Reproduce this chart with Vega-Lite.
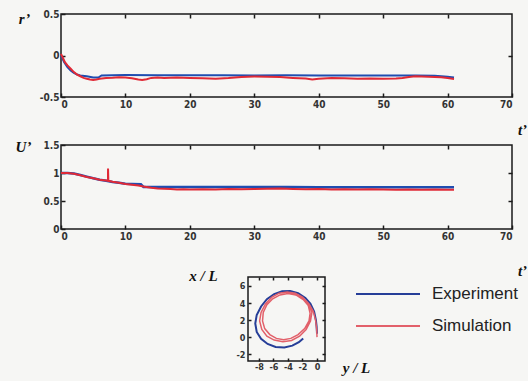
{
  "$schema": "https://vega.github.io/schema/vega-lite/v6.json",
  "autosize": {"type": "none"},
  "padding": {"left": 61, "top": 14, "right": 467, "bottom": 367},
  "background": "#f6f6f4",
  "bounds": "flush",
  "spacing": 48,
  "center": true,
  "config": {
    "view": {"stroke": "#1a1a1a", "strokeWidth": 1.5},
    "axis": {
      "grid": false,
      "domain": false,
      "tickColor": "#1a1a1a",
      "tickWidth": 1.5,
      "tickSize": -4,
      "labelPadding": 6,
      "labelFont": "Liberation Sans Narrow, DejaVu Sans Condensed, Liberation Sans, sans-serif",
      "labelFontSize": 10,
      "labelFontWeight": "bold",
      "labelColor": "#333333",
      "titleFont": "Liberation Serif, DejaVu Serif, serif",
      "titleFontStyle": "italic",
      "titleFontWeight": "bold",
      "titleFontSize": 15,
      "titleColor": "#111111"
    }
  },
  "datasets": {
    "rExp": [
      {"t": 0, "v": 0.0}, {"t": 0.5, "v": -0.08}, {"t": 1, "v": -0.14}, {"t": 1.5, "v": -0.18},
      {"t": 2, "v": -0.21}, {"t": 2.5, "v": -0.23}, {"t": 3, "v": -0.24}, {"t": 4, "v": -0.25},
      {"t": 5, "v": -0.265}, {"t": 5.8, "v": -0.265}, {"t": 6.3, "v": -0.24}, {"t": 8, "v": -0.238},
      {"t": 10, "v": -0.236}, {"t": 15, "v": -0.238}, {"t": 20, "v": -0.237}, {"t": 25, "v": -0.238},
      {"t": 30, "v": -0.24}, {"t": 35, "v": -0.238}, {"t": 40, "v": -0.24}, {"t": 45, "v": -0.24},
      {"t": 50, "v": -0.24}, {"t": 55, "v": -0.24}, {"t": 58, "v": -0.245}, {"t": 60, "v": -0.255},
      {"t": 61, "v": -0.265}
    ],
    "rSim": [
      {"t": 0, "v": 0.02}, {"t": 0.3, "v": -0.03}, {"t": 0.6, "v": -0.08}, {"t": 1, "v": -0.12},
      {"t": 1.5, "v": -0.16}, {"t": 2, "v": -0.2}, {"t": 2.5, "v": -0.23}, {"t": 3, "v": -0.25},
      {"t": 3.5, "v": -0.27}, {"t": 4, "v": -0.28}, {"t": 4.5, "v": -0.29}, {"t": 5, "v": -0.295},
      {"t": 5.5, "v": -0.29}, {"t": 6, "v": -0.28}, {"t": 7, "v": -0.27}, {"t": 8, "v": -0.268},
      {"t": 9, "v": -0.262}, {"t": 10, "v": -0.265}, {"t": 11, "v": -0.275}, {"t": 12, "v": -0.29},
      {"t": 12.6, "v": -0.295}, {"t": 13.3, "v": -0.285}, {"t": 14, "v": -0.27}, {"t": 15, "v": -0.265},
      {"t": 16, "v": -0.27}, {"t": 18, "v": -0.265}, {"t": 20, "v": -0.27}, {"t": 22, "v": -0.275},
      {"t": 24, "v": -0.28}, {"t": 26, "v": -0.272}, {"t": 28, "v": -0.258}, {"t": 30, "v": -0.252},
      {"t": 32, "v": -0.255}, {"t": 34, "v": -0.26}, {"t": 36, "v": -0.27}, {"t": 38, "v": -0.278},
      {"t": 39, "v": -0.288}, {"t": 40, "v": -0.28}, {"t": 42, "v": -0.27}, {"t": 44, "v": -0.275},
      {"t": 46, "v": -0.28}, {"t": 48, "v": -0.278}, {"t": 50, "v": -0.28}, {"t": 52, "v": -0.278},
      {"t": 53, "v": -0.272}, {"t": 54, "v": -0.258}, {"t": 55, "v": -0.25}, {"t": 57, "v": -0.255},
      {"t": 59, "v": -0.262}, {"t": 60, "v": -0.272}, {"t": 61, "v": -0.282}
    ],
    "uExp": [
      {"t": 0, "v": 1.0}, {"t": 1, "v": 1.0}, {"t": 2, "v": 0.99}, {"t": 3, "v": 0.965},
      {"t": 4, "v": 0.935}, {"t": 5, "v": 0.905}, {"t": 6, "v": 0.88}, {"t": 7, "v": 0.86},
      {"t": 8, "v": 0.84}, {"t": 9, "v": 0.825}, {"t": 10, "v": 0.81}, {"t": 11, "v": 0.805},
      {"t": 12.4, "v": 0.8}, {"t": 12.8, "v": 0.752}, {"t": 14, "v": 0.75}, {"t": 16, "v": 0.75},
      {"t": 20, "v": 0.75}, {"t": 25, "v": 0.75}, {"t": 30, "v": 0.75}, {"t": 35, "v": 0.748},
      {"t": 40, "v": 0.746}, {"t": 45, "v": 0.746}, {"t": 50, "v": 0.745}, {"t": 55, "v": 0.745},
      {"t": 61, "v": 0.745}
    ],
    "uSim": [
      {"i": 0, "t": 0, "v": 1.0}, {"i": 1, "t": 1, "v": 1.0}, {"i": 2, "t": 2, "v": 0.985},
      {"i": 3, "t": 3, "v": 0.96}, {"i": 4, "t": 4, "v": 0.93}, {"i": 5, "t": 5, "v": 0.905},
      {"i": 6, "t": 6, "v": 0.88}, {"i": 7, "t": 7, "v": 0.865}, {"i": 8, "t": 7.3, "v": 0.86},
      {"i": 9, "t": 7.3, "v": 1.08}, {"i": 10, "t": 7.35, "v": 0.86}, {"i": 11, "t": 8, "v": 0.845},
      {"i": 12, "t": 9, "v": 0.825}, {"i": 13, "t": 10, "v": 0.805}, {"i": 14, "t": 11, "v": 0.79},
      {"i": 15, "t": 12, "v": 0.775}, {"i": 16, "t": 13, "v": 0.755}, {"i": 17, "t": 14, "v": 0.735},
      {"i": 18, "t": 15, "v": 0.725}, {"i": 19, "t": 16, "v": 0.72}, {"i": 20, "t": 17, "v": 0.715},
      {"i": 21, "t": 18, "v": 0.705}, {"i": 22, "t": 19, "v": 0.71}, {"i": 23, "t": 20, "v": 0.705},
      {"i": 24, "t": 22, "v": 0.71}, {"i": 25, "t": 24, "v": 0.705}, {"i": 26, "t": 26, "v": 0.715},
      {"i": 27, "t": 28, "v": 0.71}, {"i": 28, "t": 30, "v": 0.715}, {"i": 29, "t": 32, "v": 0.72},
      {"i": 30, "t": 34, "v": 0.725}, {"i": 31, "t": 35, "v": 0.72}, {"i": 32, "t": 36, "v": 0.715},
      {"i": 33, "t": 38, "v": 0.71}, {"i": 34, "t": 40, "v": 0.715}, {"i": 35, "t": 42, "v": 0.705},
      {"i": 36, "t": 44, "v": 0.71}, {"i": 37, "t": 46, "v": 0.705}, {"i": 38, "t": 48, "v": 0.71},
      {"i": 39, "t": 50, "v": 0.705}, {"i": 40, "t": 52, "v": 0.7}, {"i": 41, "t": 54, "v": 0.705},
      {"i": 42, "t": 56, "v": 0.7}, {"i": 43, "t": 58, "v": 0.705}, {"i": 44, "t": 60, "v": 0.7},
      {"i": 45, "t": 61, "v": 0.7}
    ],
    "track": [
      {"s": "Experiment", "i": 0, "y": 0.0, "x": 0.4}, {"s": "Experiment", "i": 1, "y": -0.05, "x": 1.2},
      {"s": "Experiment", "i": 2, "y": -0.15, "x": 2.0}, {"s": "Experiment", "i": 3, "y": -0.4, "x": 3.0},
      {"s": "Experiment", "i": 4, "y": -0.9, "x": 3.9}, {"s": "Experiment", "i": 5, "y": -1.6, "x": 4.6},
      {"s": "Experiment", "i": 6, "y": -2.6, "x": 5.15}, {"s": "Experiment", "i": 7, "y": -3.7, "x": 5.4},
      {"s": "Experiment", "i": 8, "y": -4.8, "x": 5.38}, {"s": "Experiment", "i": 9, "y": -5.9, "x": 5.05},
      {"s": "Experiment", "i": 10, "y": -6.9, "x": 4.45}, {"s": "Experiment", "i": 11, "y": -7.7, "x": 3.6},
      {"s": "Experiment", "i": 12, "y": -8.3, "x": 2.6}, {"s": "Experiment", "i": 13, "y": -8.5, "x": 1.6},
      {"s": "Experiment", "i": 14, "y": -8.3, "x": 0.6}, {"s": "Experiment", "i": 15, "y": -7.7, "x": -0.2},
      {"s": "Experiment", "i": 16, "y": -6.8, "x": -0.8}, {"s": "Experiment", "i": 17, "y": -5.7, "x": -1.15},
      {"s": "Experiment", "i": 18, "y": -4.5, "x": -1.22}, {"s": "Experiment", "i": 19, "y": -3.4, "x": -1.0},
      {"s": "Experiment", "i": 20, "y": -2.5, "x": -0.6}, {"s": "Experiment", "i": 21, "y": -1.9, "x": -0.15},
      {"s": "Simulation", "i": 0, "y": 0.0, "x": 0.0}, {"s": "Simulation", "i": 1, "y": -0.05, "x": 1.0},
      {"s": "Simulation", "i": 2, "y": -0.2, "x": 2.0}, {"s": "Simulation", "i": 3, "y": -0.5, "x": 3.0},
      {"s": "Simulation", "i": 4, "y": -1.1, "x": 3.9}, {"s": "Simulation", "i": 5, "y": -2.0, "x": 4.7},
      {"s": "Simulation", "i": 6, "y": -3.0, "x": 5.15}, {"s": "Simulation", "i": 7, "y": -4.1, "x": 5.3},
      {"s": "Simulation", "i": 8, "y": -5.2, "x": 5.15}, {"s": "Simulation", "i": 9, "y": -6.2, "x": 4.7},
      {"s": "Simulation", "i": 10, "y": -7.1, "x": 3.9}, {"s": "Simulation", "i": 11, "y": -7.7, "x": 2.9},
      {"s": "Simulation", "i": 12, "y": -7.9, "x": 1.9}, {"s": "Simulation", "i": 13, "y": -7.6, "x": 0.9},
      {"s": "Simulation", "i": 14, "y": -6.9, "x": 0.1}, {"s": "Simulation", "i": 15, "y": -5.9, "x": -0.35},
      {"s": "Simulation", "i": 16, "y": -4.7, "x": -0.55}, {"s": "Simulation", "i": 17, "y": -3.5, "x": -0.4},
      {"s": "Simulation", "i": 18, "y": -2.4, "x": 0.1}, {"s": "Simulation", "i": 19, "y": -1.5, "x": 0.9},
      {"s": "Simulation", "i": 20, "y": -0.9, "x": 1.9}, {"s": "Simulation", "i": 21, "y": -0.7, "x": 2.9},
      {"s": "Simulation", "i": 22, "y": -1.1, "x": 3.8}, {"s": "Simulation", "i": 23, "y": -1.9, "x": 4.5},
      {"s": "Simulation", "i": 24, "y": -2.9, "x": 4.95}, {"s": "Simulation", "i": 25, "y": -4.0, "x": 5.1},
      {"s": "Simulation", "i": 26, "y": -5.1, "x": 4.95}, {"s": "Simulation", "i": 27, "y": -6.1, "x": 4.5},
      {"s": "Simulation", "i": 28, "y": -6.9, "x": 3.8}, {"s": "Simulation", "i": 29, "y": -7.4, "x": 2.9},
      {"s": "Simulation", "i": 30, "y": -7.5, "x": 1.9}, {"s": "Simulation", "i": 31, "y": -7.2, "x": 1.0},
      {"s": "Simulation", "i": 32, "y": -6.5, "x": 0.3}, {"s": "Simulation", "i": 33, "y": -5.6, "x": -0.15},
      {"s": "Simulation", "i": 34, "y": -4.6, "x": -0.3}, {"s": "Simulation", "i": 35, "y": -3.6, "x": -0.15},
      {"s": "Simulation", "i": 36, "y": -2.6, "x": 0.3}, {"s": "Simulation", "i": 37, "y": -1.7, "x": 1.0},
      {"s": "Simulation", "i": 38, "y": -1.1, "x": 1.9}, {"s": "Simulation", "i": 39, "y": -0.95, "x": 2.8},
      {"s": "Simulation", "i": 40, "y": -1.2, "x": 3.7}, {"s": "Simulation", "i": 41, "y": -1.9, "x": 4.4},
      {"s": "Simulation", "i": 42, "y": -2.8, "x": 4.9}, {"s": "Simulation", "i": 43, "y": -3.8, "x": 5.1}
    ]
  },
  "vconcat": [
    {
      "width": 451,
      "height": 83,
      "layer": [
        {
          "data": {"name": "rExp"},
          "mark": {"type": "line", "color": "#1f4db0", "strokeWidth": 2},
          "encoding": {
            "x": {"field": "t", "type": "quantitative",
              "scale": {"domain": [0, 70], "nice": false},
              "axis": {"orient": "bottom", "values": [0, 10, 20, 30, 40, 50, 60, 70],
                "title": "t’", "titleX": 461, "titleY": 32, "titleAlign": "center", "titleBaseline": "middle"}},
            "y": {"field": "v", "type": "quantitative",
              "scale": {"domain": [-0.5, 0.5], "nice": false, "zero": false},
              "axis": {"orient": "left", "values": [-0.5, 0, 0.5], "labelExpr": "'' + datum.value",
                "title": "r’", "titleAngle": 0, "titleX": -37, "titleY": 4, "titleAlign": "center", "titleBaseline": "middle"}}
          }
        },
        {
          "data": {"name": "rSim"},
          "mark": {"type": "line", "color": "#e02a36", "strokeWidth": 2},
          "encoding": {
            "x": {"field": "t", "type": "quantitative",
              "axis": {"orient": "top", "values": [10, 20, 30, 40, 50, 60], "labels": false, "title": null}},
            "y": {"field": "v", "type": "quantitative",
              "axis": {"orient": "right", "values": [0], "labels": false, "title": null}}
          }
        }
      ],
      "resolve": {"axis": {"x": "independent", "y": "independent"}}
    },
    {
      "width": 451,
      "height": 84,
      "layer": [
        {
          "data": {"name": "uExp"},
          "mark": {"type": "line", "color": "#1f4db0", "strokeWidth": 2.5},
          "encoding": {
            "x": {"field": "t", "type": "quantitative",
              "scale": {"domain": [0, 70], "nice": false},
              "axis": {"orient": "bottom", "values": [0, 10, 20, 30, 40, 50, 60, 70],
                "title": "t’", "titleX": 461, "titleY": 41, "titleAlign": "center", "titleBaseline": "middle"}},
            "y": {"field": "v", "type": "quantitative",
              "scale": {"domain": [0, 1.5], "nice": false},
              "axis": {"orient": "left", "values": [0, 0.5, 1, 1.5], "labelExpr": "'' + datum.value",
                "title": "U’", "titleAngle": 0, "titleX": -38, "titleY": 1.5, "titleAlign": "center", "titleBaseline": "middle"}}
          }
        },
        {
          "data": {"name": "uSim"},
          "mark": {"type": "line", "color": "#e02a36", "strokeWidth": 2},
          "encoding": {
            "x": {"field": "t", "type": "quantitative",
              "axis": {"orient": "top", "values": [10, 20, 30, 40, 50, 60], "labels": false, "title": null}},
            "y": {"field": "v", "type": "quantitative",
              "axis": {"orient": "right", "values": [0.5, 1], "labels": false, "title": null}},
            "order": {"field": "i"}
          }
        }
      ],
      "resolve": {"axis": {"x": "independent", "y": "independent"}}
    },
    {
      "width": 77,
      "height": 84,
      "data": {"name": "track"},
      "layer": [
        {
          "transform": [{"filter": "datum.s === 'Experiment'"}],
          "mark": {"type": "line", "strokeWidth": 2},
          "encoding": {
            "x": {"field": "y", "type": "quantitative",
              "scale": {"domain": [-9.5, 1.1], "nice": false, "zero": false},
              "axis": {"orient": "bottom", "values": [-8, -6, -4, -2, 0], "labelExpr": "'' + datum.value",
                "tickSize": -3, "labelPadding": 4, "labelFontSize": 9,
                "title": "y / L", "titleX": 108, "titleY": 6, "titleAlign": "center", "titleBaseline": "middle"}},
            "y": {"field": "x", "type": "quantitative",
              "scale": {"domain": [-2.8, 7.05], "nice": false, "zero": false},
              "axis": {"orient": "left", "values": [-2, 0, 2, 4, 6], "labelExpr": "'' + datum.value",
                "tickSize": -3, "labelPadding": 6, "labelFontSize": 9,
                "title": "x / L", "titleAngle": 0, "titleX": -45, "titleY": -2, "titleAlign": "center", "titleBaseline": "middle"}},
            "order": {"field": "i"},
            "color": {"field": "s", "type": "nominal",
              "scale": {"domain": ["Experiment", "Simulation"], "range": ["#263e98", "#e2606a"]},
              "legend": {"orient": "none", "legendX": 318, "legendY": 271, "title": null, "padding": 0,
                "symbolType": "M-4,0H4", "symbolSize": 256, "symbolStrokeWidth": 2,
                "labelFont": "Liberation Sans, Arial, sans-serif", "labelFontSize": 17, "labelColor": "#222222",
                "labelOffset": 35, "rowPadding": 15}}
          }
        },
        {
          "transform": [{"filter": "datum.s === 'Simulation'"}],
          "mark": {"type": "line", "strokeWidth": 1.5},
          "encoding": {
            "x": {"field": "y", "type": "quantitative",
              "axis": {"orient": "top", "values": [-8, -6, -4, -2, 0], "labels": false, "title": null, "tickSize": -3}},
            "y": {"field": "x", "type": "quantitative",
              "axis": {"orient": "right", "values": [-2, 0, 2, 4, 6], "labels": false, "title": null, "tickSize": -3}},
            "order": {"field": "i"},
            "color": {"field": "s", "type": "nominal",
              "legend": {"orient": "none", "legendX": 318, "legendY": 271, "title": null, "padding": 0,
                "symbolType": "M-4,0H4", "symbolSize": 256, "symbolStrokeWidth": 2,
                "labelFont": "Liberation Sans, Arial, sans-serif", "labelFontSize": 17, "labelColor": "#222222",
                "labelOffset": 35, "rowPadding": 15}}
          }
        }
      ],
      "resolve": {"axis": {"x": "independent", "y": "independent"}}
    }
  ]
}
